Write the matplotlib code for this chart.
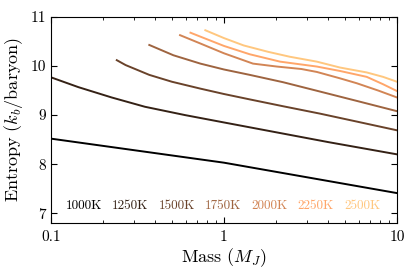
import numpy as np
import matplotlib
matplotlib.use("Agg")
import matplotlib.pyplot as plt
from matplotlib.ticker import FixedLocator, FixedFormatter, LogLocator, NullFormatter

plt.rcParams['font.family'] = 'serif'
plt.rcParams['font.serif'] = ['cmr10']
plt.rcParams['mathtext.fontset'] = 'cm'
plt.rcParams['axes.unicode_minus'] = False

# entropy tracks, mass in Jupiter masses
temps = ['1000K', '1250K', '1500K', '1750K', '2000K', '2250K', '2500K']

m_1000 = [0.1, 1.0, 10.0]
s_1000 = [8.52, 8.03, 7.41]

m_1250 = [0.1, 0.144, 0.224, 0.349, 0.596, 1.0, 2.0, 4.0, 10.0]
s_1250 = [9.77, 9.57, 9.36, 9.17, 9.00, 8.85, 8.65, 8.45, 8.20]

m_1500 = [0.24, 0.27, 0.37, 0.5, 0.73, 1.0, 1.41, 2.2, 3.59, 6.0, 10.0]
s_1500 = [10.12, 10.02, 9.82, 9.68, 9.54, 9.43, 9.32, 9.18, 9.03, 8.86, 8.69]

m_1750 = [0.37, 0.51, 0.73, 1.0, 1.41, 2.2, 3.59, 6.0, 10.0]
s_1750 = [10.43, 10.22, 10.05, 9.93, 9.82, 9.67, 9.48, 9.28, 9.08]

m_2000 = [0.557, 0.73, 1.0, 1.47, 2.02, 2.8, 3.44, 4.68, 5.85, 7.8, 10.0]
s_2000 = [10.63, 10.46, 10.26, 10.05, 9.99, 9.94, 9.88, 9.75, 9.65, 9.50, 9.36]

m_2250 = [0.64, 0.73, 1.0, 1.41, 2.11, 3.44, 4.68, 6.68, 8.3, 10.0]
s_2250 = [10.68, 10.60, 10.41, 10.24, 10.09, 9.99, 9.90, 9.78, 9.63, 9.49]

m_2500 = [0.78, 1.0, 1.3, 1.8, 2.4, 3.44, 4.68, 6.68, 8.3, 10.0]
s_2500 = [10.73, 10.57, 10.42, 10.29, 10.19, 10.09, 9.97, 9.87, 9.78, 9.68]

masses = [m_1000, m_1250, m_1500, m_1750, m_2000, m_2250, m_2500]
entropies = [s_1000, s_1250, s_1500, s_1750, s_2000, s_2250, s_2500]

colors = plt.cm.copper(np.linspace(0, 1, len(temps)))

fig = plt.figure(figsize=(4.15, 2.77), dpi=100)
ax = fig.add_axes([0.1229, 0.1949, 0.8337, 0.7437])

for i in range(len(temps)):
    ax.plot(masses[i], entropies[i], color=colors[i], lw=1.4)
    ax.text(0.043 + 0.134*i, 0.085, temps[i], color=colors[i], fontsize=9.5,
            transform=ax.transAxes, ha='left', va='center')

ax.set_xscale('log')
ax.set_xlim(0.1, 10)
ax.set_ylim(6.8, 11)
ax.xaxis.set_major_locator(FixedLocator([0.1, 1, 10]))
ax.xaxis.set_major_formatter(FixedFormatter(['0.1', '1', '10']))
ax.xaxis.set_minor_locator(LogLocator(base=10, subs=np.arange(2, 10)))
ax.xaxis.set_minor_formatter(NullFormatter())
ax.set_yticks([7, 8, 9, 10, 11])
ax.set_yticklabels(['7', '8', '9', '10', '11'])

ax.tick_params(which='both', direction='in', top=True, right=True, labelsize=11)
ax.tick_params(which='major', length=4, width=0.8)
ax.tick_params(which='minor', length=2, width=0.6)
ax.tick_params(axis='x', pad=5)

ax.set_xlabel(r'Mass $(M_J)$', fontsize=13, labelpad=2)
ax.set_ylabel(r'Entropy $(k_b/\mathrm{baryon})$', fontsize=13, labelpad=4)

fig.savefig('out.png', dpi=100)
